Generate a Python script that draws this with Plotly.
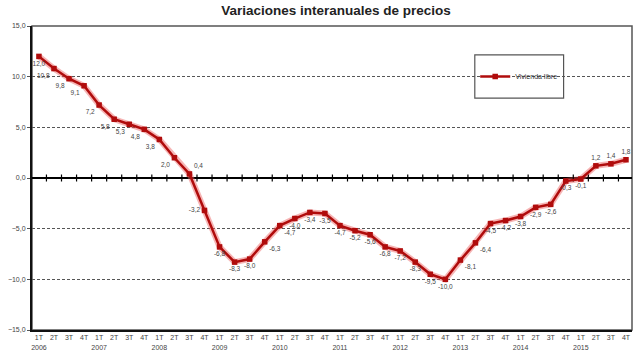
import plotly.graph_objects as go

# ---- data ----
years = ["2006", "2007", "2008", "2009", "2010", "2011", "2012", "2013", "2014", "2015"]
quarters = ["1T", "2T", "3T", "4T"]
vivienda_libre = [
    12.0, 10.8, 9.8, 9.1,
    7.2, 5.8, 5.3, 4.8,
    3.8, 2.0, 0.4, -3.2,
    -6.8, -8.3, -8.0, -6.3,
    -4.7, -4.0, -3.4, -3.5,
    -4.7, -5.2, -5.6, -6.8,
    -7.2, -8.3, -9.5, -10.0,
    -8.1, -6.4, -4.5, -4.2,
    -3.8, -2.9, -2.6, -0.3,
    -0.1, 1.2, 1.4, 1.8,
]
series_name = "Vivienda libre"
title_text = "Variaciones interanuales de precios"

# ---- derived ----
n = len(vivienda_libre)
xs = list(range(n))
ticktext = []
for yi, yr in enumerate(years):
    for qi, q in enumerate(quarters):
        ticktext.append(q + "<br>" + (yr if qi == 0 else " "))
ticktext = ticktext[:n]

label_pos = (["bottom center"] + ["bottom left"] * 9 + ["top right", "middle left"]
             + ["bottom center"] * 3 + ["bottom right"] * 2 + ["bottom center"] * 11
             + ["bottom right"] * 2 + ["bottom center"] * 7 + ["top center"] * 3)

RED = "#B00C0C"
fig = go.Figure()

# glow underneath
fig.add_trace(go.Scatter(
    x=xs, y=vivienda_libre, mode="lines",
    line=dict(color="rgba(235,90,90,0.45)", width=6),
    showlegend=False, hoverinfo="skip"))

# small ticks on zero line between categories
fig.add_trace(go.Scatter(
    x=[i + 0.5 for i in range(n - 1)], y=[0] * (n - 1), mode="markers",
    marker=dict(symbol="line-ns", size=5, line=dict(color="#000", width=1.2)),
    showlegend=False, hoverinfo="skip"))

fig.add_trace(go.Scatter(
    x=xs, y=vivienda_libre, mode="lines+markers+text", name=series_name,
    line=dict(color=RED, width=2.5),
    marker=dict(symbol="square", size=5.5, color=RED),
    text=[f"{v:.1f}".replace(".", ",") for v in vivienda_libre],
    textposition=label_pos,
    textfont=dict(family="Liberation Sans, Arial", size=6.5, color="#444"),
))

fig.update_layout(
    width=640, height=360,
    margin=dict(l=25, r=8, t=26, b=30),
    paper_bgcolor="white", plot_bgcolor="white",
    separators=",.",
    font=dict(family="Liberation Sans, Arial", size=7, color="#444"),
    title=dict(text="<b>" + title_text + "</b>", x=0.525, xanchor="center",
               y=0.972, yanchor="middle",
               font=dict(family="Liberation Sans, Arial", size=13.5, color="#222")),
    showlegend=True,
    legend=dict(x=0.812, y=0.834, xanchor="center", yanchor="middle",
                bgcolor="rgba(0,0,0,0)", borderwidth=0,
                font=dict(size=7, color="#333"), itemwidth=30),
    shapes=[
        dict(type="rect", xref="paper", yref="paper", x0=0, x1=1, y0=0, y1=1,
             line=dict(color="#555", width=1.5), layer="below"),
        dict(type="rect", xref="paper", yref="paper", x0=0.738, x1=0.886,
             y0=0.763, y1=0.905, line=dict(color="#555", width=1.2),
             fillcolor="white", layer="below"),
    ],
)

fig.update_xaxes(
    range=[-0.46, 39.4], tickmode="array", tickvals=xs, ticktext=ticktext,
    showgrid=False, zeroline=False, showline=True, linecolor="#111", linewidth=2,
    ticks="", tickfont=dict(size=7, color="#444"), fixedrange=True,
)
fig.update_yaxes(
    range=[-15, 15], dtick=5, tickformat=".1f",
    showgrid=True, gridcolor="#555", gridwidth=1, griddash="3px,2px",
    zeroline=True, zerolinecolor="#000", zerolinewidth=2,
    showline=True, linecolor="#111", linewidth=2,
    ticks="outside", ticklen=3, tickcolor="#555",
    tickfont=dict(size=7, color="#444"), fixedrange=True,
)

fig.write_html("out.html")
